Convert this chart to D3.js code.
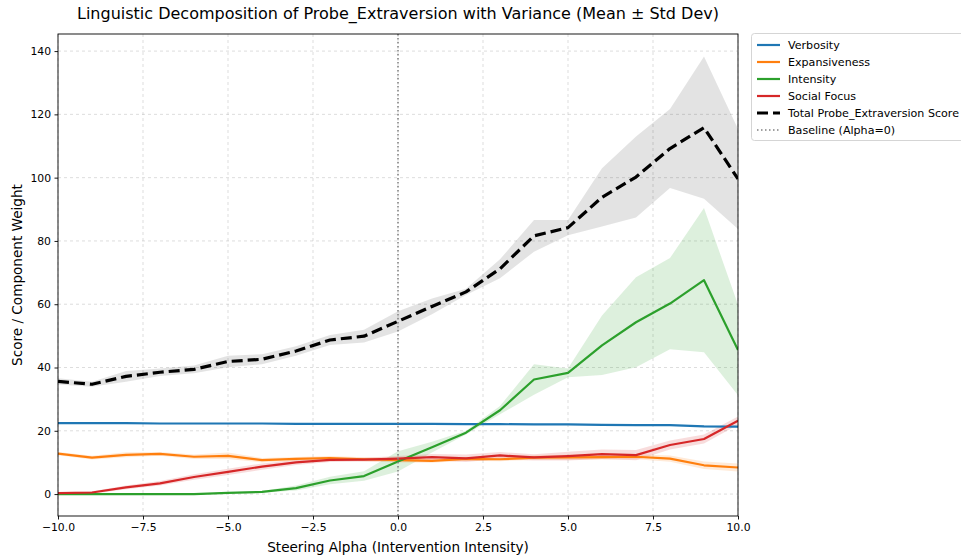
<!DOCTYPE html>
<html>
<head>
<meta charset="utf-8">
<script src="https://cdn.jsdelivr.net/npm/d3@7/dist/d3.min.js"></script>
<style>
  html, body { margin: 0; padding: 0; background: #fff; }
  svg { display: block; font-family: "DejaVu Sans", sans-serif; }
</style>
</head>
<body>
<svg id="chart" width="961" height="556"></svg>
<script>
const alphas = d3.range(-10, 11, 1);

const verbosityMean = [22.4, 22.4, 22.4, 22.3, 22.3, 22.3, 22.3, 22.2, 22.2, 22.2, 22.2, 22.2, 22.1, 22.1, 22.0, 22.0, 21.9, 21.8, 21.8, 21.4, 21.3];
const verbosityStd  = [0.2, 0.2, 0.2, 0.2, 0.2, 0.2, 0.2, 0.2, 0.2, 0.2, 0.2, 0.2, 0.2, 0.2, 0.2, 0.2, 0.2, 0.2, 0.2, 0.3, 0.3];

const expansivenessMean = [12.8, 11.5, 12.4, 12.7, 11.8, 12.1, 10.7, 11.1, 11.4, 11.0, 10.7, 10.5, 11.1, 11.0, 11.5, 11.6, 11.7, 11.8, 11.2, 9.1, 8.4];
const expansivenessStd  = [0.5, 0.6, 0.8, 0.6, 0.7, 1.0, 0.7, 0.6, 0.6, 0.6, 0.7, 0.6, 0.6, 0.6, 0.7, 0.8, 0.8, 0.8, 1.0, 1.2, 1.3];

const intensityMean = [0.0, 0.0, 0.0, 0.0, 0.0, 0.4, 0.7, 1.9, 4.3, 5.7, 10.3, 14.8, 19.4, 26.5, 36.2, 38.3, 47.0, 54.3, 60.2, 67.6, 45.5];
const intensityStd  = [0.0, 0.0, 0.0, 0.0, 0.0, 0.2, 0.3, 0.8, 1.2, 1.5, 3.2, 1.7, 0.6, 1.3, 4.8, 1.4, 9.4, 14.2, 14.4, 22.8, 14.3];

const socialMean = [0.3, 0.5, 2.1, 3.4, 5.4, 7.0, 8.7, 10.0, 10.8, 10.9, 11.2, 11.7, 11.3, 12.2, 11.6, 12.0, 12.6, 12.3, 15.5, 17.4, 23.2];
const socialStd  = [0.3, 0.4, 0.6, 0.7, 0.9, 1.0, 1.0, 0.8, 0.7, 0.6, 0.8, 1.0, 1.2, 1.1, 1.0, 1.4, 1.5, 1.6, 1.4, 1.4, 1.3];

const totalMean = [35.6, 34.7, 37.2, 38.5, 39.4, 41.9, 42.6, 45.2, 48.7, 49.9, 54.6, 59.3, 63.9, 71.2, 81.6, 84.2, 93.8, 100.2, 109.2, 115.8, 99.6];
const totalStd  = [1.0, 0.8, 1.7, 1.2, 1.2, 1.8, 1.6, 1.5, 1.6, 2.0, 3.2, 2.5, 1.0, 3.0, 5.0, 2.4, 9.2, 12.8, 12.5, 22.5, 15.8];

const seriesNames  = ["Verbosity", "Expansiveness", "Intensity", "Social Focus"];
const seriesColors = ["#1f77b4", "#ff7f0e", "#2ca02c", "#d62728"];
const totalName    = "Total Probe_Extraversion Score";
const baselineName = "Baseline (Alpha=0)";

const xTicks = [-10, -7.5, -5, -2.5, 0, 2.5, 5, 7.5, 10];
const yTicks = [0, 20, 40, 60, 80, 100, 120, 140];

const titleText = "Linguistic Decomposition of Probe_Extraversion with Variance (Mean \u00b1 Std Dev)";
const xLabel = "Steering Alpha (Intervention Intensity)";
const yLabel = "Score / Component Weight";

// ---- layout ----
const L = 58, R = 738, T = 34, B = 516;
const svg = d3.select("#chart");
const x = d3.scaleLinear().domain([-10, 10]).range([L, R]);
const y = d3.scaleLinear().domain([-6.93, 145.4]).range([B, T]);

const fmtMinus = s => s.replace("-", "\u2212");

// grid
const grid = svg.append("g");
grid.selectAll("line.gx").data(xTicks).join("line")
  .attr("x1", d => x(d)).attr("x2", d => x(d)).attr("y1", T).attr("y2", B)
  .attr("stroke", "#b0b0b0").attr("stroke-opacity", 0.55).attr("stroke-width", 0.8)
  .attr("stroke-dasharray", "3,3");
grid.selectAll("line.gy").data(yTicks).join("line")
  .attr("x1", L).attr("x2", R).attr("y1", d => y(d)).attr("y2", d => y(d))
  .attr("stroke", "#b0b0b0").attr("stroke-opacity", 0.55).attr("stroke-width", 0.8)
  .attr("stroke-dasharray", "3,3");

svg.append("defs").append("clipPath").attr("id", "plotclip")
  .append("rect").attr("x", L).attr("y", T).attr("width", R - L).attr("height", B - T);
const plot = svg.append("g").attr("clip-path", "url(#plotclip)");

const area = d3.area().x((d, i) => x(alphas[i])).y0(d => y(d[0])).y1(d => y(d[1]));
const line = d3.line().x((d, i) => x(alphas[i])).y(d => y(d));

const comps = [
  [verbosityMean, verbosityStd],
  [expansivenessMean, expansivenessStd],
  [intensityMean, intensityStd],
  [socialMean, socialStd]
];

// bands
comps.forEach(([m, s], k) => {
  plot.append("path")
    .datum(m.map((v, i) => [v - s[i], v + s[i]]))
    .attr("d", area).attr("fill", seriesColors[k]).attr("fill-opacity", 0.16);
});
plot.append("path")
  .datum(totalMean.map((v, i) => [v - totalStd[i], v + totalStd[i]]))
  .attr("d", area).attr("fill", "#000").attr("fill-opacity", 0.11);

// lines
comps.forEach(([m], k) => {
  plot.append("path").datum(m).attr("d", line)
    .attr("fill", "none").attr("stroke", seriesColors[k]).attr("stroke-width", 2.2)
    .attr("stroke-linejoin", "round");
});
plot.append("path").datum(totalMean).attr("d", line)
  .attr("fill", "none").attr("stroke", "#000").attr("stroke-width", 3.2)
  .attr("stroke-dasharray", "11,5").attr("stroke-linejoin", "round");

// baseline
plot.append("line")
  .attr("x1", x(0)).attr("x2", x(0)).attr("y1", T).attr("y2", B)
  .attr("stroke", "#808080").attr("stroke-width", 1.5).attr("stroke-dasharray", "1.5,2.5");

// frame
svg.append("rect").attr("x", L).attr("y", T).attr("width", R - L).attr("height", B - T)
  .attr("fill", "none").attr("stroke", "#000").attr("stroke-width", 0.9);

// axes
const xAxis = d3.axisBottom(x).tickValues(xTicks).tickSize(3.5).tickPadding(3.5)
  .tickFormat(d => fmtMinus(d3.format(".1f")(d)));
const gx = svg.append("g").attr("transform", `translate(0,${B})`).call(xAxis);
const yAxis = d3.axisLeft(y).tickValues(yTicks).tickSize(3.5).tickPadding(3.5)
  .tickFormat(d => fmtMinus(String(d)));
const gy = svg.append("g").attr("transform", `translate(${L},0)`).call(yAxis);
[gx, gy].forEach(g => {
  g.select(".domain").remove();
  g.selectAll(".tick line").attr("stroke", "#000").attr("stroke-width", 0.9);
  g.selectAll(".tick text").attr("fill", "#000").attr("font-size", 10.8)
    .attr("font-family", "DejaVu Sans, sans-serif");
});

// labels
svg.append("text").attr("x", (L + R) / 2).attr("y", 552).attr("text-anchor", "middle")
  .attr("font-size", 13.6).attr("fill", "#000").text(xLabel);
svg.append("text").attr("transform", `translate(22,${(T + B) / 2}) rotate(-90)`)
  .attr("text-anchor", "middle").attr("font-size", 13.6).attr("fill", "#000").text(yLabel);
svg.append("text").attr("x", (L + R) / 2).attr("y", 19).attr("text-anchor", "middle")
  .attr("font-size", 16).attr("fill", "#000").text(titleText);

// legend
const lg = svg.append("g");
lg.append("rect").attr("x", 751.5).attr("y", 33.5).attr("width", 240).attr("height", 107)
  .attr("rx", 3).attr("fill", "#fff").attr("fill-opacity", 0.8)
  .attr("stroke", "#d0d0d0").attr("stroke-width", 0.9);
const legendItems = seriesNames.map((n, k) => ({ name: n, color: seriesColors[k], w: 2.2, dash: null }))
  .concat([
    { name: totalName, color: "#000", w: 3.2, dash: "11,5" },
    { name: baselineName, color: "#808080", w: 1.5, dash: "1.5,2.5" }
  ]);
legendItems.forEach((it, i) => {
  const yy = 45 + i * 17;
  lg.append("line").attr("x1", 757).attr("x2", 780).attr("y1", yy).attr("y2", yy)
    .attr("stroke", it.color).attr("stroke-width", it.w)
    .attr("stroke-dasharray", it.dash);
  lg.append("text").attr("x", 788).attr("y", yy + 4).attr("font-size", 11.1)
    .attr("fill", "#000").text(it.name);
});
</script>
</body>
</html>
